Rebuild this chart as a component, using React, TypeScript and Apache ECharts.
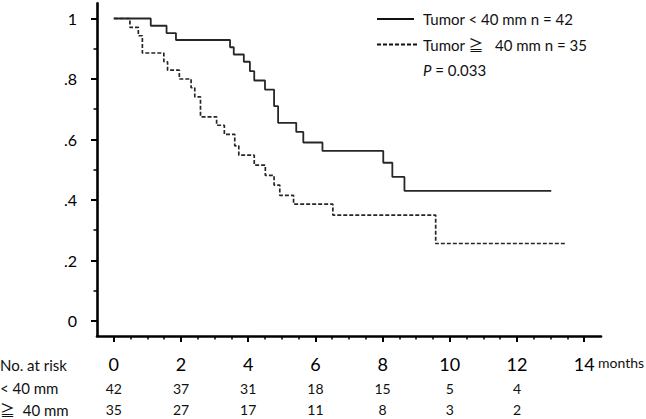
import React, { useEffect, useRef } from "react";
import * as echarts from "echarts";

// Kaplan–Meier step data
const smallTimes = [0, 1.10, 1.57, 1.85, 3.46, 3.57, 3.87, 4.05, 4.18, 4.50, 4.77, 4.89, 5.43, 5.64, 6.21, 8.02, 8.29, 8.65, 13.02];
const smallSurv = [1, 0.976, 0.952, 0.929, 0.905, 0.881, 0.857, 0.826, 0.795, 0.765, 0.71, 0.655, 0.625, 0.59, 0.562, 0.523, 0.476, 0.43, 0.43];

const largeTimes = [0, 0.48, 0.73, 0.85, 1.49, 1.60, 1.95, 2.30, 2.41, 2.58, 3.06, 3.29, 3.60, 3.72, 4.18, 4.51, 4.77, 4.94, 5.35, 6.52, 9.58, 13.48];
const largeSurv = [1, 0.971, 0.943, 0.886, 0.857, 0.829, 0.8, 0.771, 0.741, 0.675, 0.647, 0.617, 0.579, 0.548, 0.515, 0.481, 0.449, 0.415, 0.386, 0.35, 0.256, 0.256];

const xMajorTicks = [0, 2, 4, 6, 8, 10, 12, 14];
const xMinorTicks = [0, 0.5, 1, 1.5, 2, 2.5, 3, 3.5, 4, 4.5, 5, 5.5, 6, 6.5, 7, 7.5, 8, 8.5, 9, 9.5, 10, 10.5, 11, 11.5, 12, 12.5, 13, 13.5, 14];
const yMajorTicks = [0, 0.2, 0.4, 0.6, 0.8, 1];
const yMinorTicks = [0, 0.1, 0.2, 0.3, 0.4, 0.5, 0.6, 0.7, 0.8, 0.9, 1];

const riskTimes = [0, 2, 4, 6, 8, 10, 12];
const riskSmall = [42, 37, 31, 18, 15, 5, 4];
const riskLarge = [35, 27, 17, 11, 8, 3, 2];

const legendSmall = "Tumor < 40 mm n = 42";
const legendLarge = "Tumor ≧   40 mm n = 35";
const pText = "0.033";

const FONT = "Lato, 'Noto Sans CJK JP', 'DejaVu Sans', sans-serif";

export default function App() {
  const ref = useRef<HTMLDivElement>(null);

  useEffect(() => {
    document.body.style.margin = "0";
    if (!ref.current) return;
    const chart = echarts.init(ref.current, undefined, { renderer: "svg" });

    const xBase = {
      type: "value",
      min: -0.5,
      max: 14.5,
      position: "bottom",
      offset: 0,
      gridIndex: 0,
      splitLine: { show: false },
    };
    const yBase = {
      type: "value",
      min: -0.05,
      max: 1.05,
      position: "left",
      offset: 0,
      gridIndex: 0,
      splitLine: { show: false },
    };

    const riskAxis = (vals: number[], margin: number) => ({
      ...xBase,
      axisLine: { show: false, onZero: false },
      axisTick: { show: false },
      axisLabel: {
        show: true,
        customValues: riskTimes,
        margin,
        fontSize: 14,
        fontFamily: FONT,
        color: "#111",
        formatter: (v: number) => {
          const i = riskTimes.indexOf(Math.round(v));
          return i >= 0 ? String(vals[i]) : "";
        },
      },
    });

    chart.setOption({
      animation: false,
      backgroundColor: "#fff",
      grid: { left: 97, right: 45, top: 3.4, bottom: 83, containLabel: false, outerBoundsMode: "none" },
      xAxis: [
        {
          ...xBase,
          axisLine: { show: true, onZero: false, lineStyle: { color: "#000", width: 2.6 } },
          axisTick: { show: true, customValues: xMajorTicks, length: 6, lineStyle: { color: "#000", width: 2 } },
          axisLabel: { show: true, customValues: xMajorTicks, margin: 19, fontSize: 18, fontFamily: FONT, color: "#000" },
        },
        {
          ...xBase,
          axisLine: { show: false, onZero: false },
          axisTick: { show: true, customValues: xMinorTicks, length: 3.5, lineStyle: { color: "#000", width: 1.5 } },
          axisLabel: { show: false },
        },
        riskAxis(riskSmall, 45),
        riskAxis(riskLarge, 66),
      ],
      yAxis: [
        {
          ...yBase,
          axisLine: { show: true, onZero: false, lineStyle: { color: "#000", width: 2.6 } },
          axisTick: { show: true, customValues: yMajorTicks, length: 6, lineStyle: { color: "#000", width: 2 } },
          axisLabel: {
            show: true,
            customValues: yMajorTicks,
            margin: 20,
            fontSize: 16,
            fontFamily: FONT,
            color: "#000",
            formatter: (v: number) => {
              if (Math.abs(v - 1) < 1e-6) return "1";
              if (Math.abs(v) < 1e-6) return "0";
              return "." + Math.round(v * 10);
            },
          },
        },
        {
          ...yBase,
          axisLine: { show: false, onZero: false },
          axisTick: { show: true, customValues: yMinorTicks, length: 3.5, lineStyle: { color: "#000", width: 1.5 } },
          axisLabel: { show: false },
        },
      ],
      series: [
        {
          type: "line",
          xAxisIndex: 0,
          yAxisIndex: 0,
          step: "end",
          symbol: "none",
          lineStyle: { color: "#262626", width: 1.8, type: "solid" },
          data: smallTimes.map((t, i) => [t, smallSurv[i]]),
        },
        {
          type: "line",
          xAxisIndex: 0,
          yAxisIndex: 0,
          step: "end",
          symbol: "none",
          lineStyle: { color: "#262626", width: 1.7, type: [4, 2] },
          data: largeTimes.map((t, i) => [t, largeSurv[i]]),
        },
      ],
      graphic: [
        { type: "line", shape: { x1: 377, y1: 19, x2: 414, y2: 19 }, style: { stroke: "#111", lineWidth: 2 } },
        { type: "line", shape: { x1: 377, y1: 44.5, x2: 419, y2: 44.5 }, style: { stroke: "#111", lineWidth: 2, lineDash: [4, 2] } },
        {
          type: "text",
          x: 423,
          y: 19,
          style: { text: legendSmall, font: `15px ${FONT}`, fill: "#111", verticalAlign: "middle", textAlign: "left" },
        },
        {
          type: "text",
          x: 423,
          y: 45,
          style: { text: legendLarge, font: `15px ${FONT}`, fill: "#111", verticalAlign: "middle", textAlign: "left" },
        },
        {
          type: "text",
          x: 423,
          y: 69.5,
          style: {
            text: "{i|P} = " + pText,
            font: `15px ${FONT}`,
            fill: "#111",
            verticalAlign: "middle",
            textAlign: "left",
            rich: { i: { fontStyle: "italic", fontSize: 15, fontFamily: FONT, fill: "#111" } },
          },
        },
        {
          type: "text",
          x: 0,
          y: 365,
          style: { text: "No. at risk", font: `15px ${FONT}`, fill: "#111", verticalAlign: "middle" },
        },
        {
          type: "text",
          x: 0,
          y: 388,
          style: { text: "< 40 mm", font: `15px ${FONT}`, fill: "#111", verticalAlign: "middle" },
        },
        {
          type: "text",
          x: 0,
          y: 409.5,
          style: { text: "≧  40 mm", font: `15px ${FONT}`, fill: "#111", verticalAlign: "middle" },
        },
        {
          type: "text",
          x: 598,
          y: 362.5,
          style: { text: "months", font: `14px ${FONT}`, fill: "#111", verticalAlign: "middle" },
        },
      ],
    });

    return () => chart.dispose();
  }, []);

  return <div ref={ref} style={{ width: 646, height: 419 }} />;
}
